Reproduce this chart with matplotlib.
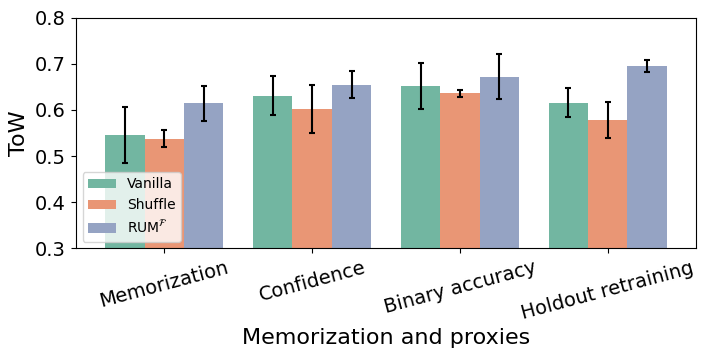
import numpy as np
import matplotlib
matplotlib.use("Agg")
import matplotlib.pyplot as plt
import seaborn as sns

categories = ["Memorization", "Confidence", "Binary accuracy", "Holdout retraining"]
methods = ["Vanilla", "Shuffle", r"RUM$^{\mathcal{F}}$"]
means = [
    [0.545, 0.631, 0.651, 0.616],  # Vanilla
    [0.538, 0.603, 0.636, 0.579],  # Shuffle
    [0.614, 0.655, 0.672, 0.696],  # RUM
]
errs = [
    [0.061, 0.043, 0.050, 0.031],
    [0.019, 0.052, 0.008, 0.039],
    [0.037, 0.030, 0.048, 0.013],
]

colors = [sns.desaturate(c, 0.75) for c in sns.color_palette("Set2", 3)]

fig, ax = plt.subplots(figsize=(7.07, 3.58), dpi=100)
x = np.arange(len(categories))
w = 0.8 / 3
for i, name in enumerate(methods):
    ax.bar(x + (i - 1) * w, means[i], w, color=colors[i], label=name,
           yerr=errs[i], capsize=2.5, error_kw=dict(elinewidth=1.5, capthick=1.5, ecolor="black"))

ax.set_ylim(0.3, 0.8)
ax.set_xlim(-0.6, 3.6)
ax.set_xticks(x)
ax.set_xticklabels(categories, rotation=15, fontsize=14)
ax.tick_params(axis="y", labelsize=14)
ax.set_ylabel("ToW", fontsize=16)
ax.set_xlabel("Memorization and proxies", fontsize=16)
ax.legend(loc="lower left", fontsize=10)

plt.subplots_adjust(left=0.107, right=0.985, top=0.951, bottom=0.306)
plt.savefig("out.png")
